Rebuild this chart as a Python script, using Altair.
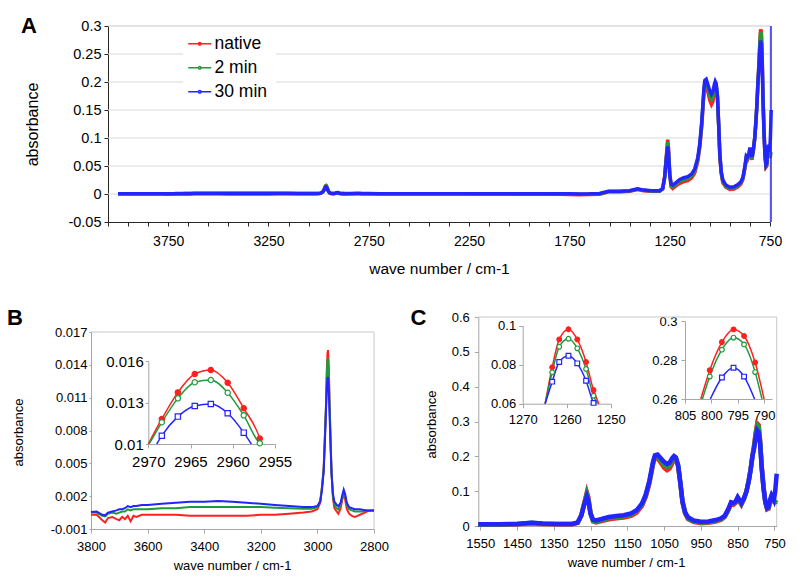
import altair as alt
import pandas as pd

SERIES = ["native", "2 min", "30 min"]
LINE_COLORS = ["#ff2020", "#1f9a3c", "#2424ff"]
MARKER_FILLS = ["#ff2020", "#ffffff", "#ffffff"]
MARKER_SHAPES = ["circle", "circle", "square"]

# ---------------- spectra: high wave-number end (panel A only) ----------------
a_head_wn = [4000, 3950, 3900, 3850]
a_head_native = [0.0003, 0.0003, 0.0003, 0.0003]
a_head_2min = [0.0005, 0.0005, 0.0005, 0.0005]
a_head_30min = [0.0006, 0.0006, 0.0006, 0.0006]

# ---------------- C-H stretching region (panel B, also part of A) ----------------
b_wn = [3800, 3780, 3760, 3750, 3740, 3725, 3710, 3700, 3690, 3680,
        3670, 3660, 3650, 3640, 3620, 3600, 3550, 3500, 3450, 3400,
        3350, 3300, 3250, 3200, 3150, 3100, 3050, 3020, 3000, 2990,
        2984, 2978, 2974, 2970, 2968.4, 2966.5, 2964.5, 2962.6, 2960.6, 2958.7,
        2956.8, 2953, 2950, 2945, 2940, 2932, 2926, 2918, 2912, 2907,
        2902, 2896, 2888, 2878, 2868, 2858, 2850, 2840, 2825, 2810,
        2800]
b_native = [0.0003, 0.0003, -0.0002, -0.0004, 0.0, 0.0001, -0.0001, -0.0002, 0.0001, -0.0001,
            0.0002, -0.0003, 0.0002, 0.0001, 0.0003, 0.0003, 0.0003, 0.0003, 0.0002, 0.0002,
            0.0002, 0.0002, 0.0002, 0.0003, 0.0003, 0.0004, 0.0005, 0.0006, 0.0008, 0.0014,
            0.0028, 0.0045, 0.0072, 0.0100, 0.01181, 0.01373, 0.01506, 0.01535, 0.01443, 0.01258,
            0.01039, 0.0068, 0.0042, 0.0018, 0.0009, 0.0006, 0.0004, 0.0009, 0.0017, 0.0022,
            0.0017, 0.0008, 0.0004, 0.0002, 0.0001, 0.0002, 0.0003, 0.0004, 0.0006, 0.0007,
            0.0007]
b_2min = [0.0005, 0.0005, 0.0002, 0.00015, 0.0004, 0.0005, 0.0004, 0.0005, 0.0006, 0.0006,
          0.0008, 0.0007, 0.0008, 0.0008, 0.0008, 0.0008, 0.0009, 0.0009, 0.0010, 0.0010,
          0.0010, 0.0010, 0.0010, 0.0010, 0.00095, 0.0009, 0.00085, 0.00085, 0.0010, 0.0016,
          0.0028, 0.0043, 0.0070, 0.0099, 0.01157, 0.0133, 0.01446, 0.01463, 0.01371, 0.01207,
          0.01005, 0.0066, 0.0042, 0.0020, 0.0012, 0.0009, 0.0008, 0.0012, 0.0019, 0.0024,
          0.0020, 0.0012, 0.0008, 0.0007, 0.0006, 0.0006, 0.0006, 0.0006, 0.0007, 0.0007,
          0.0007]
b_30min = [0.00055, 0.0006, 0.0003, 0.00025, 0.0005, 0.0006, 0.0007, 0.0008, 0.0008, 0.0009,
           0.0011, 0.0010, 0.0011, 0.0011, 0.0012, 0.0012, 0.0013, 0.0014, 0.0015, 0.0015,
           0.00155, 0.0015, 0.0014, 0.0013, 0.0012, 0.0011, 0.0010, 0.0010, 0.0011, 0.0015,
           0.0025, 0.0042, 0.0066, 0.0096, 0.0106, 0.01198, 0.01275, 0.01289, 0.01222, 0.01082,
           0.0093, 0.0062, 0.0040, 0.0022, 0.0015, 0.0012, 0.0011, 0.0014, 0.0021, 0.0026,
           0.0022, 0.0014, 0.0010, 0.0009, 0.0008, 0.0008, 0.0008, 0.00075, 0.0007, 0.0007,
           0.0007]

# ---------------- middle region (panel A only) ----------------
a_mid_wn = [2780, 2750, 2700, 2600, 2500, 2400, 2300, 2200, 2100, 2000,
            1900, 1800, 1750, 1700, 1650, 1600]
a_mid_native = [0.0006, 0.0005, 0.0004, 0.0004, 0.0003, 0.0003, 0.0003, 0.0002, 0.0002, 0.0001,
                0.0, -0.0005, -0.0010, -0.0012, -0.0010, -0.0005]
a_mid_2min = [0.0006, 0.0006, 0.0005, 0.0005, 0.0004, 0.0004, 0.0004, 0.0003, 0.0003, 0.0002,
              0.0002, 0.0, -0.0004, -0.0006, -0.0004, 0.0]
a_mid_30min = [0.0007, 0.0007, 0.0006, 0.0006, 0.0005, 0.0005, 0.0005, 0.0004, 0.0004, 0.0004,
               0.0004, 0.0004, 0.0003, 0.0002, 0.0003, 0.0008]

# ---------------- fingerprint region (panel C, also part of A) ----------------
c_wn = [1555, 1500, 1450, 1410, 1380, 1340, 1300, 1285, 1275, 1268,
        1264, 1260, 1256, 1250, 1243, 1235, 1220, 1200, 1180, 1160,
        1140, 1125, 1110, 1100, 1090, 1080, 1075, 1068, 1060, 1050,
        1042, 1035, 1028, 1023, 1018, 1012, 1006, 1000, 993, 985,
        970, 950, 930, 910, 895, 885, 875, 868, 862, 856,
        850, 845, 840, 833, 826, 820, 815, 810, 805, 801,
        797, 793, 789, 785, 780, 775, 770, 766, 762, 758,
        755, 752, 748, 744]
c_native = [0.004, 0.004, 0.005, 0.008, 0.006, 0.005, 0.005, 0.009, 0.031, 0.062,
            0.079, 0.097, 0.083, 0.038, 0.013, 0.010, 0.014, 0.019, 0.022, 0.024,
            0.029, 0.038, 0.058, 0.083, 0.122, 0.178, 0.195, 0.196, 0.183, 0.167,
            0.160, 0.165, 0.180, 0.190, 0.190, 0.172, 0.124, 0.068, 0.036, 0.020,
            0.012, 0.008, 0.009, 0.013, 0.018, 0.026, 0.046, 0.064, 0.061, 0.066,
            0.079, 0.070, 0.061, 0.077, 0.100, 0.130, 0.162, 0.200, 0.235, 0.268,
            0.294, 0.290, 0.245, 0.175, 0.115, 0.068, 0.048, 0.050, 0.070, 0.083,
            0.078, 0.070, 0.068, 0.070]
c_2min = [0.0045, 0.0045, 0.0055, 0.009, 0.0065, 0.0055, 0.0055, 0.0095, 0.0305, 0.060,
          0.076, 0.093, 0.078, 0.036, 0.015, 0.013, 0.017, 0.023, 0.026, 0.028,
          0.033, 0.042, 0.062, 0.087, 0.126, 0.181, 0.199, 0.200, 0.189, 0.175,
          0.169, 0.174, 0.188, 0.196, 0.194, 0.174, 0.125, 0.069, 0.038, 0.022,
          0.014, 0.010, 0.011, 0.015, 0.020, 0.028, 0.048, 0.066, 0.063, 0.068,
          0.081, 0.072, 0.063, 0.078, 0.100, 0.130, 0.161, 0.200, 0.232, 0.265,
          0.289, 0.285, 0.242, 0.172, 0.112, 0.069, 0.050, 0.052, 0.072, 0.085,
          0.080, 0.072, 0.070, 0.075]
c_30min = [0.005, 0.005, 0.006, 0.0095, 0.007, 0.006, 0.006, 0.010, 0.030, 0.058,
           0.072, 0.085, 0.073, 0.035, 0.018, 0.016, 0.020, 0.026, 0.029, 0.031,
           0.036, 0.045, 0.065, 0.090, 0.130, 0.185, 0.203, 0.205, 0.196, 0.184,
           0.178, 0.182, 0.195, 0.201, 0.197, 0.175, 0.125, 0.070, 0.040, 0.025,
           0.016, 0.012, 0.013, 0.017, 0.022, 0.030, 0.050, 0.068, 0.066, 0.070,
           0.083, 0.075, 0.066, 0.080, 0.100, 0.130, 0.160, 0.200, 0.225, 0.255,
           0.274, 0.268, 0.235, 0.170, 0.110, 0.070, 0.052, 0.055, 0.075, 0.088,
           0.082, 0.075, 0.100, 0.150]

# blue trace running off the right edge of panel A
a_edge_wn = [745]
a_edge_lo = [-0.05]
a_edge_hi = [0.3]

# ---------------- inset of B (2970-2955 cm-1) ----------------
bi_wn = [2968.4, 2966.5, 2964.5, 2962.6, 2960.6, 2958.7, 2956.8]
bi_native = [0.01181, 0.01373, 0.01506, 0.01535, 0.01443, 0.01258, 0.01039]
bi_2min = [0.01157, 0.0133, 0.01446, 0.01463, 0.01371, 0.01207, 0.01005]
bi_30min = [0.0106, 0.01198, 0.01275, 0.01289, 0.01222, 0.01082, None]
bi_cross_left = [2970.0, 2969.9, 2969.0]
bi_cross_right = [2956.6, 2956.7, 2957.8]

# ---------------- inset 1 of C (1270-1250 cm-1) ----------------
c1_wn = [1263.3, 1261.7, 1259.6, 1257.6, 1255.6, 1253.9]
c1_native = [0.0787, 0.0930, 0.0982, 0.0930, 0.0814, 0.0670]
c1_2min = [0.0761, 0.0892, 0.0933, 0.0884, 0.0778, 0.0641]
c1_30min = [0.0713, 0.0814, 0.0846, 0.0807, 0.0718, 0.0604]
c1_cross_left = [1264.9, 1264.9, 1264.9]
c1_cross_right = [1252.7, 1253.0, 1253.8]

# ---------------- inset 2 of C (805-790 cm-1) ----------------
c2_wn = [800.3, 798.0, 795.8, 793.8, 791.7]
c2_native = [0.2748, 0.2892, 0.2957, 0.2923, 0.2787]
c2_2min = [0.2715, 0.2853, 0.2915, 0.2880, 0.2738]
c2_30min = [None, 0.2710, 0.2760, 0.2715, None]
c2_cross_left = [802.0, 801.7, 800.2]
c2_cross_right = [790.0, 790.4, 791.8]

# ---------------- axes ----------------
a_x_ticks = list(range(4050, 749, -100))
a_y_ticks = [-0.05, 0, 0.05, 0.1, 0.15, 0.2, 0.25, 0.3]
a_grid = [0, 0.05, 0.1, 0.15, 0.2, 0.25]
b_x_ticks = [3800, 3600, 3400, 3200, 3000, 2800]
b_y_ticks = [-0.001, 0.002, 0.005, 0.008, 0.011, 0.014, 0.017]
bi_x_ticks = [2970, 2965, 2960, 2955]
bi_y_ticks = [0.01, 0.013, 0.016]
c_x_ticks = [1550, 1450, 1350, 1250, 1150, 1050, 950, 850, 750]
c_y_ticks = [0, 0.1, 0.2, 0.3, 0.4, 0.5, 0.6]
c1_x_ticks = [1270, 1260, 1250]
c1_y_ticks = [0.06, 0.08, 0.1]
c2_x_ticks = [805, 800, 795, 790]
c2_y_ticks = [0.26, 0.28, 0.3]

# ---------------- layout / style ----------------
W, H = 784, 571
FONT = "Liberation Sans"
AX_DARK = "#262626"
AX_GRAY = "#a6a6a6"
FRAME_GRAY = "#c8c8c8"
GRID_GRAY = "#d9d9d9"
TITLE_X = "wave number / cm-1"
TITLE_Y = "absorbance"

LEG_PATH = "M-1.5,0H-0.16M0.16,0H1.5M0.16,0A0.16,0.16,0,1,1,-0.16,0A0.16,0.16,0,1,1,0.16,0Z"
LEG = alt.Legend(orient="none", legendX=175, legendY=19, title=None, symbolType=LEG_PATH,
                 symbolSize=235, symbolStrokeWidth=1.5, labelFontSize=17.5, labelFont=FONT,
                 labelOffset=6, rowPadding=5, padding=8, fillColor="white")

COLOR_OF = dict(zip(SERIES, LINE_COLORS))
SHAPE_OF = dict(zip(SERIES, MARKER_SHAPES))


def long_df(wn, vals_list):
    rows = []
    for s, vals in zip(SERIES, vals_list):
        for w, v in zip(wn, vals):
            if v is not None:
                rows.append({"wn": w, "abs": v, "series": s})
    df = pd.DataFrame(rows)
    df["hex"] = df["series"].map(COLOR_OF)
    df["marker"] = df["series"].map(SHAPE_OF)
    return df


def inset_line_df(wn, vals_list, left, right, base):
    rows = []
    for s, vals, l, r in zip(SERIES, vals_list, left, right):
        rows.append({"wn": l, "abs": base, "series": s})
        for w, v in zip(wn, vals):
            if v is not None:
                rows.append({"wn": w, "abs": v, "series": s})
        rows.append({"wn": r, "abs": base, "series": s})
    df = pd.DataFrame(rows)
    df["hex"] = df["series"].map(COLOR_OF)
    return df


def make_axis(orient, values, offset, color, size, tick, pad, expr="toString(datum.value)",
              title=None, tx=0, ty=0, tsize=13):
    kw = dict(orient=orient, values=values, offset=offset, grid=False, domainColor=color,
              tickColor=color, tickSize=tick, labelPadding=pad, labelFontSize=size,
              labelColor="#000000", labelFont=FONT, labelFlush=False, labelOverlap=False,
              labelBound=False, labelExpr=expr)
    if title is None:
        kw["title"] = None
    else:
        kw.update(title=title, titleX=tx, titleY=ty, titleFontSize=tsize, titleFont=FONT,
                  titleFontWeight="normal", titleColor="#000000", titleAlign="center",
                  titleBaseline="middle")
    return alt.Axis(**kw)


class Panel:
    def __init__(self, xd, xr, yd, yr, ax, ay):
        self.sx = alt.Scale(domain=xd, range=xr, nice=False, zero=False)
        self.sy = alt.Scale(domain=yd, range=yr, nice=False, zero=False)
        self.ax = ax
        self.ay = ay

    def x(self):
        return alt.X("wn:Q", scale=self.sx, axis=self.ax)

    def y(self):
        return alt.Y("abs:Q", scale=self.sy, axis=self.ay)


def lines(p, df, width, interp="linear"):
    return alt.Chart(df).mark_line(strokeWidth=width, interpolate=interp).encode(
        x=p.x(), y=p.y(), color=alt.Color("hex:N", scale=None))


def markers(p, df, size=22):
    return alt.Chart(df).mark_point(size=size, strokeWidth=1.2, opacity=1).encode(
        x=p.x(), y=p.y(),
        stroke=alt.Stroke("series:N", scale=alt.Scale(domain=SERIES, range=LINE_COLORS), legend=LEG),
        fill=alt.Fill("series:N", scale=alt.Scale(domain=SERIES, range=MARKER_FILLS), legend=LEG),
        shape=alt.Shape("marker:N", scale=None))


def rules(p, df, color, width=1.0):
    return alt.Chart(df).mark_rule(color=color, strokeWidth=width).encode(
        x=p.x(), x2=alt.X2("wn2"), y=p.y(), y2=alt.Y2("abs2"))


def seg_df(x1, x2, y1, y2):
    return pd.DataFrame({"wn": x1, "wn2": x2, "abs": y1, "abs2": y2})


# pixel ranges (view coordinates = page - 8)
A_XR, A_YR = [100, 762], [214, 18]
B_XR, B_YR = [83, 366], [521, 324]
BI_XR, BI_YR = [140.3, 267], [436, 353]
C_XR, C_YR = [470.3, 768.7], [518, 309]
C1_XR, C1_YR = [514.7, 602.7], [395.7, 317.7]
C2_XR, C2_YR = [677, 764], [391, 313]

pA = Panel([4050, 750], A_XR, [-0.05, 0.3], A_YR,
           make_axis("bottom", a_x_ticks, A_YR[0] - H, AX_DARK, 14, 4, 8,
                     expr="datum.value % 500 == 250 ? toString(datum.value) : ''",
                     title=TITLE_X, tx=431, ty=46, tsize=15.5),
           make_axis("left", a_y_ticks, -A_XR[0], AX_DARK, 14.5, 4, 3,
                     title=TITLE_Y, tx=-76, ty=116, tsize=16))
pB = Panel([3800, 2800], B_XR, [-0.001, 0.017], B_YR,
           make_axis("bottom", b_x_ticks, B_YR[0] - H, AX_GRAY, 13, 4, 7,
                     title=TITLE_X, tx=224, ty=36),
           make_axis("left", b_y_ticks, -B_XR[0], AX_GRAY, 13, 2, 2,
                     title=TITLE_Y, tx=-72.5, ty=424))
pBi = Panel([2970, 2955], BI_XR, [0.01, 0.016], BI_YR,
            make_axis("bottom", bi_x_ticks, BI_YR[0] - H, AX_GRAY, 15, 4, 6),
            make_axis("left", bi_y_ticks, -BI_XR[0], AX_GRAY, 15, 3, 2))
pC = Panel([1555, 744], C_XR, [0, 0.6], C_YR,
           make_axis("bottom", c_x_ticks, C_YR[0] - H, AX_GRAY, 13, 4, 7,
                     title=TITLE_X, tx=618, ty=36),
           make_axis("left", c_y_ticks, -C_XR[0], AX_GRAY, 13, 4, 5,
                     title=TITLE_Y, tx=-47.3, ty=416))
pC1 = Panel([1270, 1250], C1_XR, [0.06, 0.1], C1_YR,
            make_axis("bottom", c1_x_ticks, C1_YR[0] - H, AX_GRAY, 13, 4, 6),
            make_axis("left", c1_y_ticks, -C1_XR[0], AX_GRAY, 13, 4, 3))
pC2 = Panel([805, 788.5], C2_XR, [0.26, 0.3], C2_YR,
            make_axis("bottom", c2_x_ticks, C2_YR[0] - H, AX_GRAY, 13, 4, 6),
            make_axis("left", c2_y_ticks, -C2_XR[0], AX_GRAY, 13, 4, 4))

# data frames
a_df = long_df(a_head_wn + b_wn + a_mid_wn + c_wn,
               [a_head_native + b_native + a_mid_native + c_native,
                a_head_2min + b_2min + a_mid_2min + c_2min,
                a_head_30min + b_30min + a_mid_30min + c_30min])
b_df = long_df(b_wn, [b_native, b_2min, b_30min])
c_df = long_df(c_wn, [c_native, c_2min, c_30min])
bi_pts = long_df(bi_wn, [bi_native, bi_2min, bi_30min])
bi_line = inset_line_df(bi_wn, [bi_native, bi_2min, bi_30min], bi_cross_left, bi_cross_right, 0.01)
c1_pts = long_df(c1_wn, [c1_native, c1_2min, c1_30min])
c1_line = inset_line_df(c1_wn, [c1_native, c1_2min, c1_30min], c1_cross_left, c1_cross_right, 0.06)
c2_pts = long_df(c2_wn, [c2_native, c2_2min, c2_30min])
c2_line = inset_line_df(c2_wn, [c2_native, c2_2min, c2_30min], c2_cross_left, c2_cross_right, 0.26)

grid_a = seg_df([4050] * len(a_grid), [750] * len(a_grid), a_grid, a_grid)
frame_a = seg_df([4050, 750], [750, 750], [0.3, -0.05], [0.3, 0.3])
edge_a = seg_df(a_edge_wn, a_edge_wn, a_edge_lo, a_edge_hi)
frame_b = seg_df([3800, 2800], [2800, 2800], [0.017, -0.001], [0.017, 0.017])
frame_c = seg_df([1555, 744], [744, 744], [0.6, 0.0], [0.6, 0.6])

layer_a = alt.layer(
    rules(pA, grid_a, GRID_GRAY),
    rules(pA, frame_a, FRAME_GRAY),
    lines(pA, a_df, 3.5),
    rules(pA, edge_a, LINE_COLORS[2], 1.5),
)
layer_b = alt.layer(rules(pB, frame_b, FRAME_GRAY), lines(pB, b_df, 2))
layer_bi = alt.layer(lines(pBi, bi_line, 1.5, "monotone"), markers(pBi, bi_pts, 28))
layer_c = alt.layer(rules(pC, frame_c, FRAME_GRAY), lines(pC, c_df, 4.5))
layer_c1 = alt.layer(lines(pC1, c1_line, 1.5, "monotone"), markers(pC1, c1_pts, 22))
layer_c2 = alt.layer(lines(pC2, c2_line, 1.5, "monotone"), markers(pC2, c2_pts, 22))


def letter(t, px, py):
    return alt.Chart(pd.DataFrame({"t": [t]})).mark_text(
        font=FONT, fontSize=22, fontWeight="bold", color="#000000", align="center",
        baseline="middle").encode(text="t:N", x=alt.value(px), y=alt.value(py))


chart = alt.layer(
    layer_a, layer_b, layer_bi, layer_c, layer_c1, layer_c2,
    letter("A", 21, 18), letter("B", 7, 309.5), letter("C", 410.5, 309.5),
).resolve_scale(x="independent", y="independent").resolve_axis(
    x="independent", y="independent"
).properties(
    width=W, height=H, padding=0, autosize=alt.AutoSizeParams(type="none")
).configure_view(stroke=None)

chart.save("out.html", embed_options={"renderer": "svg", "actions": False})
